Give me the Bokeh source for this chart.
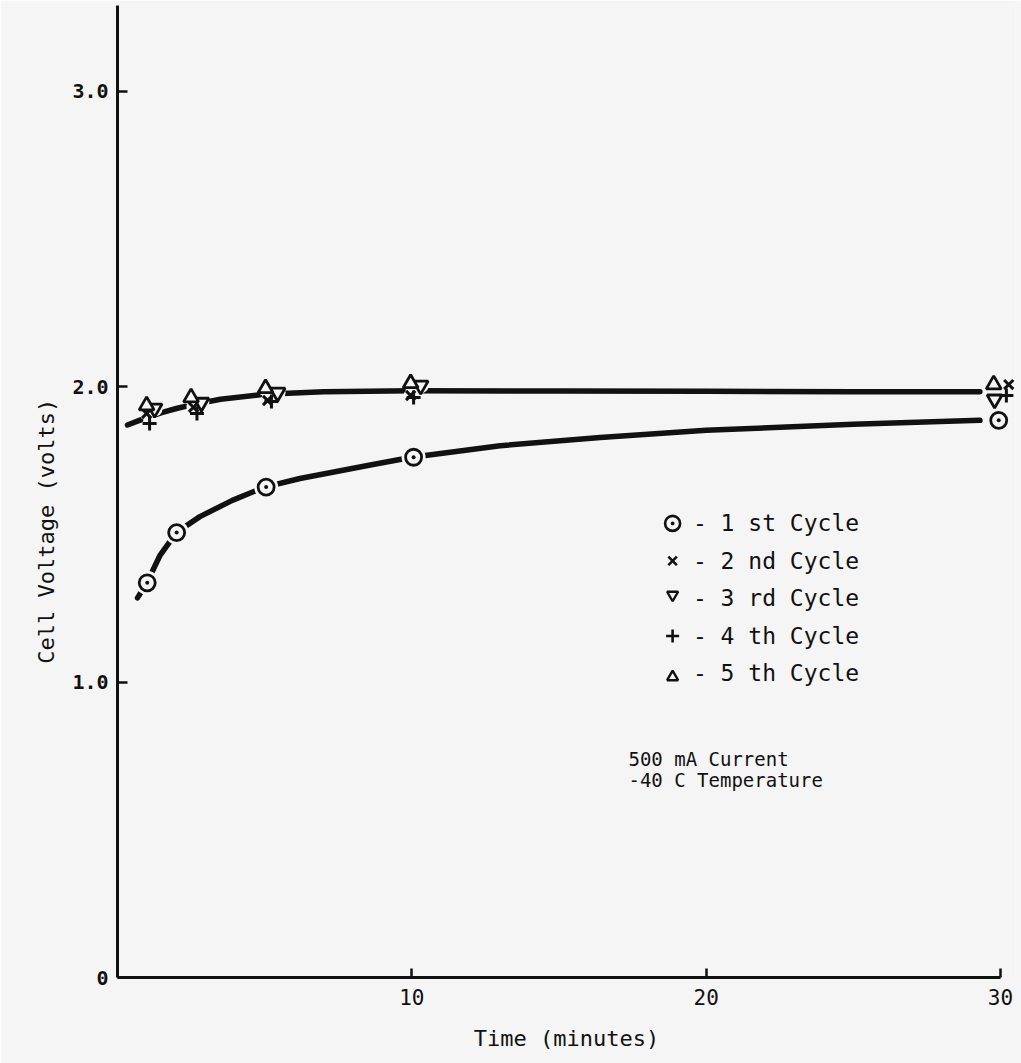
from bokeh.plotting import figure
from bokeh.models import FixedTicker
from bokeh.core.properties import value
from bokeh.embed import file_html
from bokeh.resources import INLINE

# ---------------- data ----------------
# 1st cycle markers
T1 = [1.01, 2.01, 5.05, 10.06, 29.94]
V1 = [1.336, 1.506, 1.660, 1.761, 1.886]
# 2nd cycle (x)
T2 = [0.99, 2.58, 5.10, 9.96, 30.28]
V2 = [1.909, 1.930, 1.953, 1.970, 2.007]
# 3rd cycle (inverted triangle)
T3 = [1.26, 2.85, 5.44, 10.30, 29.80]
V3 = [1.926, 1.946, 1.980, 2.004, 1.957]
# 4th cycle (+)
T4 = [1.09, 2.70, 5.23, 10.06, 30.20]
V4 = [1.875, 1.909, 1.950, 1.963, 1.970]
# 5th cycle (triangle)
T5 = [0.99, 2.50, 5.03, 9.96, 29.77]
V5 = [1.936, 1.963, 1.994, 2.011, 2.007]

# hand-drawn curves, points
LOWER_T = [0.68, 1.0, 1.45, 2.0, 2.8, 3.9, 5.0, 6.2, 8.5, 10.0, 13.0, 16.4, 20.0, 25.0, 29.3]
LOWER_V = [1.285, 1.336, 1.430, 1.506, 1.560, 1.615, 1.660, 1.689, 1.733, 1.761, 1.800, 1.828, 1.852, 1.873, 1.886]
UPPER_T = [0.34, 0.7, 1.0, 1.5, 2.0, 2.6, 3.5, 5.0, 7.0, 10.0, 15.0, 20.0, 25.0, 29.3]
UPPER_V = [1.870, 1.884, 1.895, 1.912, 1.926, 1.940, 1.957, 1.974, 1.983, 1.986, 1.985, 1.984, 1.983, 1.983]

X_TICKS = [10, 20, 30]
Y_TICKS = [0, 1, 2, 3]
Y_TICK_LABELS = {0: "0", 1: "1.0", 2: "2.0", 3: "3.0"}

LEGEND_LABELS = ["- 1 st Cycle", "- 2 nd Cycle", "- 3 rd Cycle", "- 4 th Cycle", "- 5 th Cycle"]
NOTE_LINES = ["500 mA Current", "-40 C Temperature"]

# ---------------- styling ----------------
BG = "#f5f5f5"
INK = "#111111"
MONO = "DejaVu Sans Mono"

p = figure(width=1021, height=1063, x_range=(0, 30.51), y_range=(0, 3.29),
           output_backend="svg", toolbar_location=None,
           min_border_left=117, min_border_right=6, min_border_top=5, min_border_bottom=86,
           background_fill_color=BG, border_fill_color=BG, outline_line_color=None)
p.grid.visible = False

xa = p.xaxis[0]
xa.ticker = FixedTicker(ticks=X_TICKS)
xa.bounds = (0, 30)
xa.axis_line_width = 3
xa.axis_line_color = INK
xa.major_tick_in = 9
xa.major_tick_out = 0
xa.major_tick_line_width = 2.5
xa.major_tick_line_color = INK
xa.minor_tick_line_color = None
xa.major_label_text_font = MONO
xa.major_label_text_font_size = "21px"
xa.major_label_text_color = INK
xa.major_label_standoff = 11
xa.axis_label = "Time (minutes)"
xa.axis_label_text_font = MONO
xa.axis_label_text_font_size = "22px"
xa.axis_label_text_font_style = "normal"
xa.axis_label_text_color = INK
xa.axis_label_standoff = 18

ya = p.yaxis[0]
ya.ticker = FixedTicker(ticks=Y_TICKS)
ya.major_label_overrides = Y_TICK_LABELS
ya.axis_line_width = 3
ya.axis_line_color = INK
ya.major_tick_in = 10
ya.major_tick_out = 0
ya.major_tick_line_width = 2.5
ya.major_tick_line_color = INK
ya.minor_tick_line_color = None
ya.major_label_text_font = MONO
ya.major_label_text_font_size = "20px"
ya.major_label_text_font_style = "bold"
ya.major_label_text_color = INK
ya.major_label_standoff = 9
# trailing no-break spaces push the visible title slightly below the frame centre, as in the original
ya.axis_label = "Cell Voltage (volts)" + "\u00a0" * 6
ya.axis_label_text_font = MONO
ya.axis_label_text_font_size = "22px"
ya.axis_label_text_font_style = "normal"
ya.axis_label_text_color = INK
ya.axis_label_standoff = 10

# curves
p.line(LOWER_T, LOWER_V, line_width=5.5, line_color=INK, line_cap="round", line_join="round")
p.line(UPPER_T, UPPER_V, line_width=5.5, line_color=INK, line_cap="round", line_join="round")

# small gaps in the line around each marker
for T, V, s in [(T1, V1, 24), (T2, V2, 14), (T3, V3, 16), (T4, V4, 14), (T5, V5, 16)]:
    p.scatter(T, V, marker="circle", size=s, fill_color=BG, line_color=None)

# markers
p.scatter(T1, V1, marker="circle_dot", size=16, fill_color=BG, line_color=INK, line_width=2.8)
p.scatter(T2, V2, marker="x", size=13, line_color=INK, line_width=3)
p.scatter(T3, V3, marker="inverted_triangle", size=15, fill_color=BG, line_color=INK, line_width=2.8)
p.scatter(T4, V4, marker="cross", size=14, line_color=INK, line_width=3)
p.scatter(T5, V5, marker="triangle", size=15, fill_color=BG, line_color=INK, line_width=2.8)

# legend (drawn as text + markers like the typed original)
LEG_X = 18.86
LEG_TX = 19.55
LEG_Y0 = 1.537
LEG_STEP = 0.127
leg_y = [LEG_Y0 - i * LEG_STEP for i in range(len(LEGEND_LABELS))]
markers = ["circle_dot", "x", "inverted_triangle", "cross", "triangle"]
msizes = [15, 12, 11, 13, 11]
for i, (m, s) in enumerate(zip(markers, msizes)):
    yy = leg_y[i] + (0.012 if m == "inverted_triangle" else 0.0) - (0.012 if m == "triangle" else 0.0)
    p.scatter([LEG_X], [yy], marker=m, size=s, fill_color=BG, line_color=INK,
              line_width=2.6 if m in ("circle_dot", "x", "cross") else 2.4)
p.text(x=[LEG_TX] * len(LEGEND_LABELS), y=leg_y, text=LEGEND_LABELS,
       text_font=value(MONO), text_font_size="23px", text_color=INK,
       text_align="left", text_baseline="middle")

# condition note
NOTE_X = 17.36
NOTE_Y0 = 0.738
NOTE_STEP = 0.068
p.text(x=[NOTE_X] * len(NOTE_LINES), y=[NOTE_Y0 - i * NOTE_STEP for i in range(len(NOTE_LINES))],
       text=NOTE_LINES, text_font=value(MONO), text_font_size="19px", text_color=INK,
       text_align="left", text_baseline="middle")

open("out.html", "w").write(file_html(p, INLINE))
